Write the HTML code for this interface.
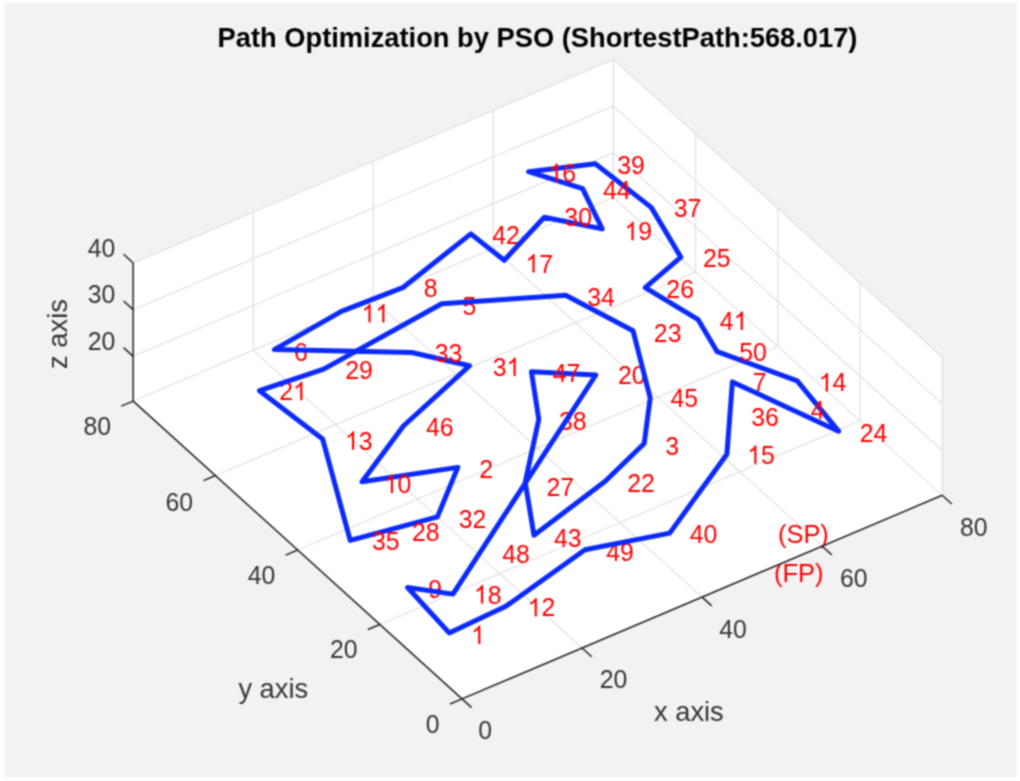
<!DOCTYPE html>
<html><head><meta charset="utf-8"><title>Path Optimization by PSO</title>
<style>html,body{margin:0;padding:0;background:#fff;}body{width:1020px;height:781px;overflow:hidden;font-family:"Liberation Sans",sans-serif;}svg{display:block;}</style>
</head><body><svg width="1020" height="781" viewBox="0 0 1020 781" font-family="Liberation Sans, sans-serif"><defs><filter id="soft" filterUnits="userSpaceOnUse" x="0" y="0" width="1020" height="781" color-interpolation-filters="sRGB"><feConvolveMatrix order="3" kernelMatrix="1 2 1 2 4 2 1 2 1" divisor="16" edgeMode="duplicate" preserveAlpha="true"/></filter></defs><g filter="url(#soft)"><rect x="0" y="0" width="1020" height="781" fill="#ffffff"/><rect x="4.5" y="2.5" width="1012" height="774.5" fill="#f2f2f2"/><g transform="translate(0.2,0.7)"><polygon points="461.80,698.20 942.00,494.60 613.20,196.80 133.00,400.40" fill="#ffffff"/><polygon points="133.00,400.40 613.20,196.80 613.20,58.72 133.00,262.32" fill="#ffffff"/><polygon points="942.00,494.60 613.20,196.80 613.20,58.72 942.00,356.52" fill="#ffffff"/><g stroke="#dedede" stroke-width="1.1" fill="none"><line x1="461.80" y1="698.20" x2="133.00" y2="400.40"/><line x1="461.80" y1="698.20" x2="942.00" y2="494.60"/><line x1="133.00" y1="400.40" x2="133.00" y2="262.32"/><line x1="942.00" y1="494.60" x2="942.00" y2="356.52"/><line x1="581.85" y1="647.30" x2="253.05" y2="349.50"/><line x1="379.60" y1="623.75" x2="859.80" y2="420.15"/><line x1="253.05" y1="349.50" x2="253.05" y2="211.42"/><line x1="859.80" y1="420.15" x2="859.80" y2="282.07"/><line x1="701.90" y1="596.40" x2="373.10" y2="298.60"/><line x1="297.40" y1="549.30" x2="777.60" y2="345.70"/><line x1="373.10" y1="298.60" x2="373.10" y2="160.52"/><line x1="777.60" y1="345.70" x2="777.60" y2="207.62"/><line x1="821.95" y1="545.50" x2="493.15" y2="247.70"/><line x1="215.20" y1="474.85" x2="695.40" y2="271.25"/><line x1="493.15" y1="247.70" x2="493.15" y2="109.62"/><line x1="695.40" y1="271.25" x2="695.40" y2="133.17"/><line x1="942.00" y1="494.60" x2="613.20" y2="196.80"/><line x1="133.00" y1="400.40" x2="613.20" y2="196.80"/><line x1="613.20" y1="196.80" x2="613.20" y2="58.72"/><line x1="613.20" y1="196.80" x2="613.20" y2="58.72"/><line x1="133.00" y1="355.62" x2="613.20" y2="152.02"/><line x1="942.00" y1="449.82" x2="613.20" y2="152.02"/><line x1="133.00" y1="308.97" x2="613.20" y2="105.37"/><line x1="942.00" y1="403.17" x2="613.20" y2="105.37"/><line x1="133.00" y1="262.32" x2="613.20" y2="58.72"/><line x1="942.00" y1="356.52" x2="613.20" y2="58.72"/></g><text transform="translate(492.03,243.37) scale(1,1.04)" font-size="24.8" fill="#ff0000">42</text><text transform="translate(462.41,314.17) scale(1,1.04)" font-size="24.8" fill="#ff0000">5</text><text transform="translate(617.86,382.97) scale(1,1.04)" font-size="24.8" fill="#ff0000">20</text><text transform="translate(558.86,428.87) scale(1,1.04)" font-size="24.8" fill="#ff0000">38</text><text transform="translate(279.16,399.57) scale(1,1.04)" font-size="24.8" fill="#ff0000">2</text><path d="M763 0L583 0L583 1147Q518 1085 412 1023Q306 961 223 930L223 1104Q372 1174 484 1274Q596 1374 643 1466L763 1466Z" transform="translate(292.95,399.57) scale(0.01211,-0.01259)" fill="#ff0000"/><text transform="translate(293.74,359.87) scale(1,1.04)" font-size="24.8" fill="#ff0000">6</text><text transform="translate(428.13,596.87) scale(1,1.04)" font-size="24.8" fill="#ff0000">9</text><text transform="translate(606.13,560.77) scale(1,1.04)" font-size="24.8" fill="#ff0000">49</text><polygon points="595.6,374.3 531.2,371.0 538.6,418.6 525.0,481.6 533.8,534.6 605.0,480.5 644.0,442.8 650.0,397.3 632.8,330.0 565.5,294.6 441.5,303.0 323.5,368.4 259.3,390.0 322.4,438.2 350.0,539.6 437.2,516.2 457.6,466.7 361.8,481.1 403.2,425.3 469.2,365.1 411.6,351.8 274.1,348.9 341.2,310.6 402.5,287.0 470.6,233.2 504.0,259.6 544.1,216.5 602.0,228.2 582.4,188.0 528.4,171.0 595.1,163.1 651.0,206.7 680.7,256.5 645.0,286.9 698.0,319.0 717.0,351.0 797.0,380.2 838.4,430.5 732.2,381.2 726.7,453.5 669.5,532.4 584.8,549.0 506.2,605.2 449.0,632.2 407.4,586.8 452.7,593.4" fill="none" stroke="#0a2aff" stroke-width="5" stroke-linejoin="round"/><text transform="translate(477.93,738.37) scale(1,1.04)" font-size="24.8" fill="#363636">0</text><text transform="translate(599.46,687.57) scale(1,1.04)" font-size="24.8" fill="#363636">20</text><text transform="translate(718.93,636.87) scale(1,1.04)" font-size="24.8" fill="#363636">40</text><text transform="translate(839.74,586.07) scale(1,1.04)" font-size="24.8" fill="#363636">60</text><text transform="translate(959.73,534.87) scale(1,1.04)" font-size="24.8" fill="#363636">80</text><text transform="translate(425.58,732.67) scale(1,1.04)" font-size="24.8" fill="#363636">0</text><text transform="translate(329.79,657.67) scale(1,1.04)" font-size="24.8" fill="#363636">20</text><text transform="translate(247.59,583.07) scale(1,1.04)" font-size="24.8" fill="#363636">40</text><text transform="translate(165.19,509.97) scale(1,1.04)" font-size="24.8" fill="#363636">60</text><text transform="translate(83.19,434.47) scale(1,1.04)" font-size="24.8" fill="#363636">80</text><text transform="translate(87.59,256.47) scale(1,1.04)" font-size="24.8" fill="#363636">40</text><text transform="translate(87.59,302.67) scale(1,1.04)" font-size="24.8" fill="#363636">30</text><text transform="translate(87.59,349.27) scale(1,1.04)" font-size="24.8" fill="#363636">20</text><text x="653.8" y="720.4" font-size="27.3" fill="#363636">x axis</text><text x="238.2" y="696.9" font-size="27.3" fill="#363636">y axis</text><text transform="translate(66.8,368.2) rotate(-90)" font-size="27.3" fill="#363636">z axis</text><text transform="translate(617.06,173.37) scale(1,1.04)" font-size="24.8" fill="#ff0000">39</text><path d="M763 0L583 0L583 1147Q518 1085 412 1023Q306 961 223 930L223 1104Q372 1174 484 1274Q596 1374 643 1466L763 1466Z" transform="translate(548.30,181.37) scale(0.01211,-0.01259)" fill="#ff0000"/><text transform="translate(562.09,181.37) scale(1,1.04)" font-size="24.8" fill="#ff0000">6</text><text transform="translate(602.83,198.37) scale(1,1.04)" font-size="24.8" fill="#ff0000">44</text><text transform="translate(673.46,215.97) scale(1,1.04)" font-size="24.8" fill="#ff0000">37</text><text transform="translate(564.16,225.37) scale(1,1.04)" font-size="24.8" fill="#ff0000">30</text><path d="M763 0L583 0L583 1147Q518 1085 412 1023Q306 961 223 930L223 1104Q372 1174 484 1274Q596 1374 643 1466L763 1466Z" transform="translate(624.20,239.57) scale(0.01211,-0.01259)" fill="#ff0000"/><text transform="translate(637.99,239.57) scale(1,1.04)" font-size="24.8" fill="#ff0000">9</text><path d="M763 0L583 0L583 1147Q518 1085 412 1023Q306 961 223 930L223 1104Q372 1174 484 1274Q596 1374 643 1466L763 1466Z" transform="translate(525.20,271.87) scale(0.01211,-0.01259)" fill="#ff0000"/><text transform="translate(538.99,271.87) scale(1,1.04)" font-size="24.8" fill="#ff0000">7</text><text transform="translate(702.76,266.17) scale(1,1.04)" font-size="24.8" fill="#ff0000">25</text><text transform="translate(666.16,297.37) scale(1,1.04)" font-size="24.8" fill="#ff0000">26</text><text transform="translate(719.63,329.37) scale(1,1.04)" font-size="24.8" fill="#ff0000">4</text><path d="M763 0L583 0L583 1147Q518 1085 412 1023Q306 961 223 930L223 1104Q372 1174 484 1274Q596 1374 643 1466L763 1466Z" transform="translate(733.42,329.37) scale(0.01211,-0.01259)" fill="#ff0000"/><text transform="translate(653.66,341.07) scale(1,1.04)" font-size="24.8" fill="#ff0000">23</text><text transform="translate(739.11,360.37) scale(1,1.04)" font-size="24.8" fill="#ff0000">50</text><text transform="translate(752.44,389.97) scale(1,1.04)" font-size="24.8" fill="#ff0000">7</text><path d="M763 0L583 0L583 1147Q518 1085 412 1023Q306 961 223 930L223 1104Q372 1174 484 1274Q596 1374 643 1466L763 1466Z" transform="translate(818.50,390.77) scale(0.01211,-0.01259)" fill="#ff0000"/><text transform="translate(832.29,390.77) scale(1,1.04)" font-size="24.8" fill="#ff0000">4</text><text transform="translate(670.33,406.77) scale(1,1.04)" font-size="24.8" fill="#ff0000">45</text><text transform="translate(423.53,296.77) scale(1,1.04)" font-size="24.8" fill="#ff0000">8</text><text transform="translate(434.46,361.37) scale(1,1.04)" font-size="24.8" fill="#ff0000">33</text><text transform="translate(492.46,375.37) scale(1,1.04)" font-size="24.8" fill="#ff0000">3</text><path d="M763 0L583 0L583 1147Q518 1085 412 1023Q306 961 223 930L223 1104Q372 1174 484 1274Q596 1374 643 1466L763 1466Z" transform="translate(506.25,375.37) scale(0.01211,-0.01259)" fill="#ff0000"/><text transform="translate(552.63,381.17) scale(1,1.04)" font-size="24.8" fill="#ff0000">47</text><text transform="translate(586.96,305.37) scale(1,1.04)" font-size="24.8" fill="#ff0000">34</text><text transform="translate(810.63,418.77) scale(1,1.04)" font-size="24.8" fill="#ff0000">4</text><text transform="translate(750.96,425.17) scale(1,1.04)" font-size="24.8" fill="#ff0000">36</text><text transform="translate(859.56,441.37) scale(1,1.04)" font-size="24.8" fill="#ff0000">24</text><path d="M763 0L583 0L583 1147Q518 1085 412 1023Q306 961 223 930L223 1104Q372 1174 484 1274Q596 1374 643 1466L763 1466Z" transform="translate(747.00,463.37) scale(0.01211,-0.01259)" fill="#ff0000"/><text transform="translate(760.79,463.37) scale(1,1.04)" font-size="24.8" fill="#ff0000">5</text><text transform="translate(345.06,378.37) scale(1,1.04)" font-size="24.8" fill="#ff0000">29</text><path d="M763 0L583 0L583 1147Q518 1085 412 1023Q306 961 223 930L223 1104Q372 1174 484 1274Q596 1374 643 1466L763 1466Z" transform="translate(344.70,448.97) scale(0.01211,-0.01259)" fill="#ff0000"/><text transform="translate(358.49,448.97) scale(1,1.04)" font-size="24.8" fill="#ff0000">3</text><text transform="translate(425.73,435.37) scale(1,1.04)" font-size="24.8" fill="#ff0000">46</text><path d="M763 0L583 0L583 1147Q518 1085 412 1023Q306 961 223 930L223 1104Q372 1174 484 1274Q596 1374 643 1466L763 1466Z" transform="translate(383.60,492.37) scale(0.01211,-0.01259)" fill="#ff0000"/><text transform="translate(397.39,492.37) scale(1,1.04)" font-size="24.8" fill="#ff0000">0</text><text transform="translate(458.46,527.37) scale(1,1.04)" font-size="24.8" fill="#ff0000">32</text><path d="M763 0L583 0L583 1147Q518 1085 412 1023Q306 961 223 930L223 1104Q372 1174 484 1274Q596 1374 643 1466L763 1466Z" transform="translate(361.20,321.87) scale(0.01211,-0.01259)" fill="#ff0000"/><path d="M763 0L583 0L583 1147Q518 1085 412 1023Q306 961 223 930L223 1104Q372 1174 484 1274Q596 1374 643 1466L763 1466Z" transform="translate(374.99,321.87) scale(0.01211,-0.01259)" fill="#ff0000"/><text transform="translate(479.16,477.37) scale(1,1.04)" font-size="24.8" fill="#ff0000">2</text><text transform="translate(411.86,540.37) scale(1,1.04)" font-size="24.8" fill="#ff0000">28</text><text transform="translate(371.86,549.17) scale(1,1.04)" font-size="24.8" fill="#ff0000">35</text><text transform="translate(502.03,562.77) scale(1,1.04)" font-size="24.8" fill="#ff0000">48</text><path d="M763 0L583 0L583 1147Q518 1085 412 1023Q306 961 223 930L223 1104Q372 1174 484 1274Q596 1374 643 1466L763 1466Z" transform="translate(473.70,602.87) scale(0.01211,-0.01259)" fill="#ff0000"/><text transform="translate(487.49,602.87) scale(1,1.04)" font-size="24.8" fill="#ff0000">8</text><path d="M763 0L583 0L583 1147Q518 1085 412 1023Q306 961 223 930L223 1104Q372 1174 484 1274Q596 1374 643 1466L763 1466Z" transform="translate(527.40,615.77) scale(0.01211,-0.01259)" fill="#ff0000"/><text transform="translate(541.19,615.77) scale(1,1.04)" font-size="24.8" fill="#ff0000">2</text><path d="M763 0L583 0L583 1147Q518 1085 412 1023Q306 961 223 930L223 1104Q372 1174 484 1274Q596 1374 643 1466L763 1466Z" transform="translate(470.90,643.37) scale(0.01211,-0.01259)" fill="#ff0000"/><text transform="translate(664.96,453.87) scale(1,1.04)" font-size="24.8" fill="#ff0000">3</text><text transform="translate(546.36,495.37) scale(1,1.04)" font-size="24.8" fill="#ff0000">27</text><text transform="translate(626.96,490.87) scale(1,1.04)" font-size="24.8" fill="#ff0000">22</text><text transform="translate(553.83,546.17) scale(1,1.04)" font-size="24.8" fill="#ff0000">43</text><text transform="translate(689.53,542.27) scale(1,1.04)" font-size="24.8" fill="#ff0000">40</text><text transform="translate(777.83,542.14) scale(1,1.04)" font-size="25.4" fill="#ff0000">(SP)</text><text transform="translate(773.83,580.94) scale(1,1.04)" font-size="25.4" fill="#ff0000">(FP)</text><g stroke="#262626" stroke-width="1.5" fill="none" stroke-linecap="butt"><line x1="461.80" y1="698.20" x2="942.00" y2="494.60"/><line x1="461.80" y1="698.20" x2="133.00" y2="400.40"/><line x1="133.00" y1="400.40" x2="133.00" y2="262.32"/><line x1="461.80" y1="698.20" x2="471.44" y2="706.93"/><line x1="461.80" y1="698.20" x2="449.83" y2="703.27"/><line x1="581.85" y1="647.30" x2="591.49" y2="656.03"/><line x1="379.60" y1="623.75" x2="367.63" y2="628.82"/><line x1="701.90" y1="596.40" x2="711.54" y2="605.13"/><line x1="297.40" y1="549.30" x2="285.43" y2="554.37"/><line x1="821.95" y1="545.50" x2="831.59" y2="554.23"/><line x1="215.20" y1="474.85" x2="203.23" y2="479.92"/><line x1="942.00" y1="494.60" x2="951.64" y2="503.33"/><line x1="133.00" y1="400.40" x2="121.03" y2="405.47"/><line x1="133.00" y1="355.62" x2="123.36" y2="346.89"/><line x1="133.00" y1="308.97" x2="123.36" y2="300.24"/><line x1="133.00" y1="262.32" x2="123.36" y2="253.59"/></g></g><text transform="translate(537.5,46.7) scale(1,1.02)" font-size="27.3" font-weight="bold" fill="#000" text-anchor="middle">Path Optimization by PSO (ShortestPath:568.017)</text></g></svg></body></html>
